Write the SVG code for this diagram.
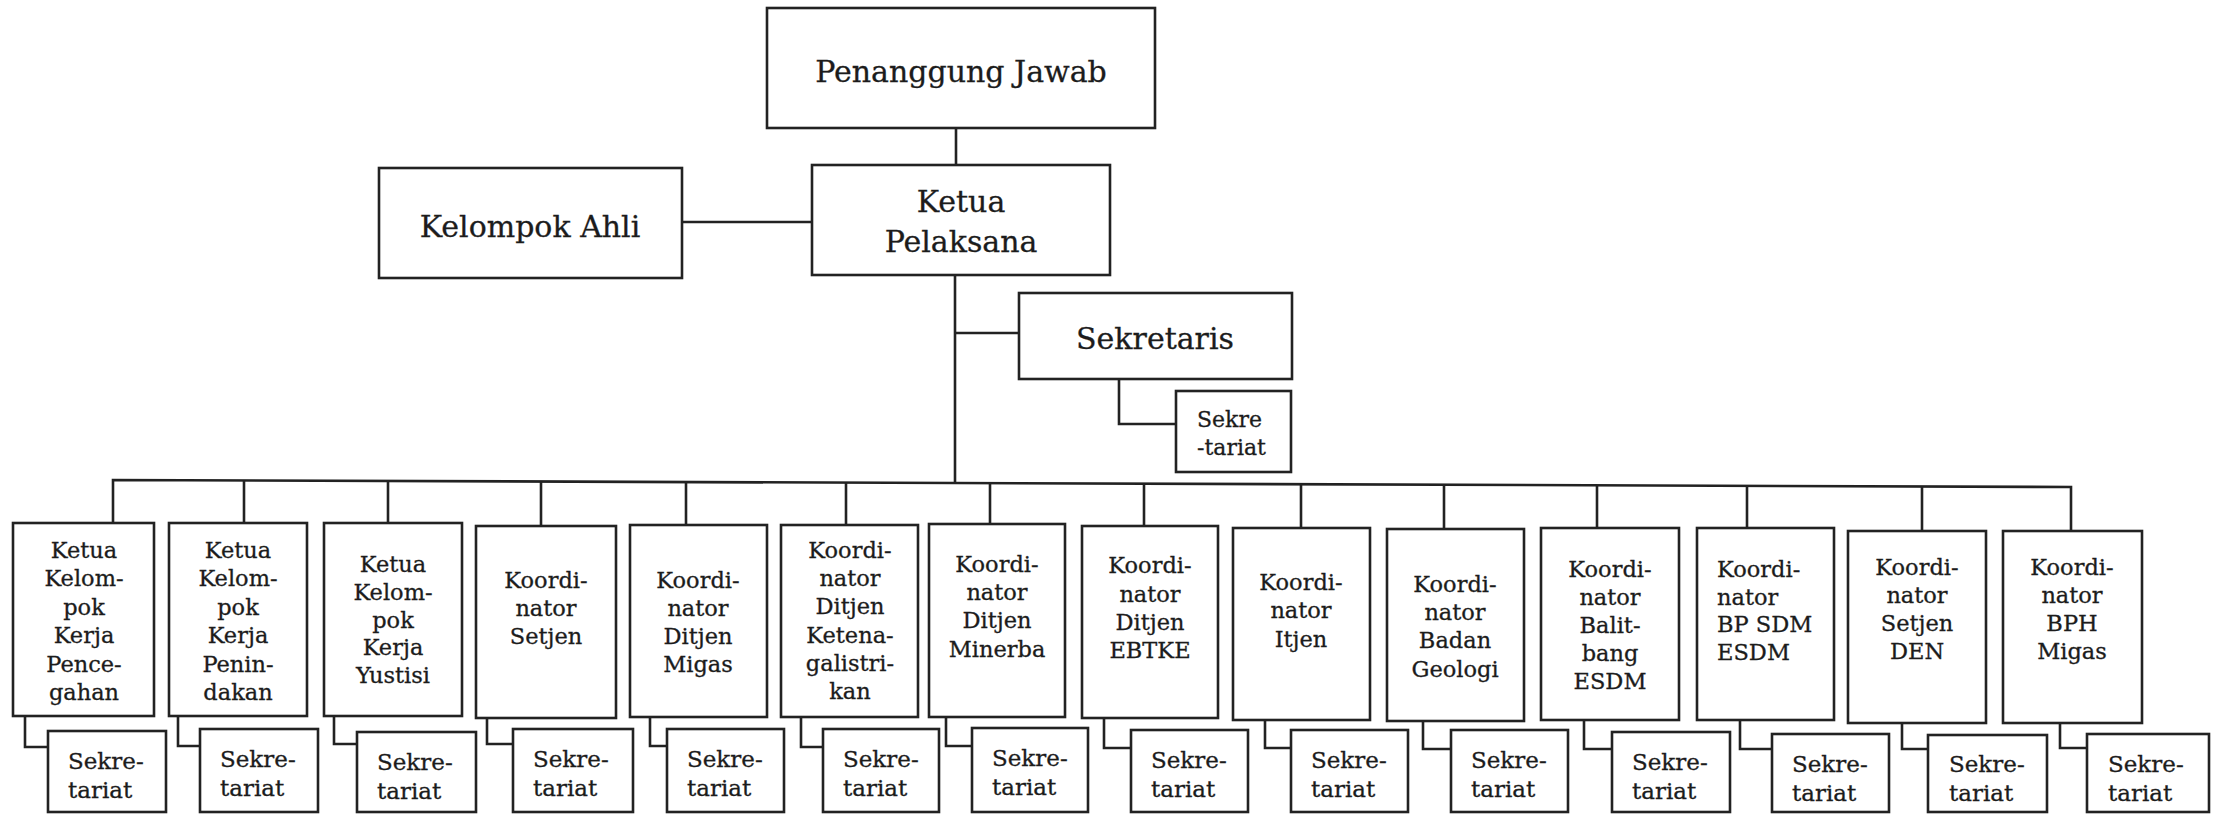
<svg xmlns="http://www.w3.org/2000/svg" width="2214" height="815" viewBox="0 0 2214 815">
<style>
.b{fill:#fff;stroke:#222;stroke-width:2.6}
.c{fill:none;stroke:#222;stroke-width:2.6}
text{font-family:"DejaVu Serif","Liberation Serif",serif;fill:#1c1c1c;stroke:#1c1c1c;stroke-width:0.3}
.t30{font-size:30px;text-anchor:middle}
.t22{font-size:22.5px;text-anchor:middle}
.l22{font-size:22px}
.l225{font-size:22.5px}
.s23{font-size:23px}
</style>
<rect width="2214" height="815" fill="#fff"/>
<g id="connectors">
<path class="c" d="M956 128V165"/>
<path class="c" d="M682 222H812"/>
<path class="c" d="M955 275V483"/>
<path class="c" d="M955 333H1019"/>
<path class="c" d="M1119 379V424H1176"/>
<path class="c" d="M113 523V480L2071 487V531"/>
<path class="c" d="M244 480.5V523"/>
<path class="c" d="M388 481V523"/>
<path class="c" d="M541 481.5V526"/>
<path class="c" d="M686 482V525"/>
<path class="c" d="M846 482.6V525"/>
<path class="c" d="M990 483.1V524"/>
<path class="c" d="M1144 483.7V526"/>
<path class="c" d="M1301 484.2V528"/>
<path class="c" d="M1444 484.8V529"/>
<path class="c" d="M1597 485.3V528"/>
<path class="c" d="M1747 485.8V528"/>
<path class="c" d="M1922 486.5V531"/>
<path class="c" d="M25 716V747H48"/>
<path class="c" d="M178 716V746H200"/>
<path class="c" d="M334 716V744H357"/>
<path class="c" d="M487 718V744H513"/>
<path class="c" d="M650 717V746H667"/>
<path class="c" d="M801 717V747H823"/>
<path class="c" d="M946 717V746H972"/>
<path class="c" d="M1104 718V748H1131"/>
<path class="c" d="M1265 720V748H1291"/>
<path class="c" d="M1423 721V749H1451"/>
<path class="c" d="M1584 720V749H1612"/>
<path class="c" d="M1740 720V749H1772"/>
<path class="c" d="M1902 723V749H1928"/>
<path class="c" d="M2060 723V748H2087"/>
</g>
<g id="penanggung-jawab"><rect class="b" x="767" y="8" width="388" height="120"/><text class="t30" x="961" y="82">Penanggung Jawab</text></g>
<g id="ketua-pelaksana"><rect class="b" x="812" y="165" width="298" height="110"/><text class="t30" x="961" y="212">Ketua</text><text class="t30" x="961" y="252">Pelaksana</text></g>
<g id="kelompok-ahli"><rect class="b" x="379" y="168" width="303" height="110"/><text class="t30" x="530" y="237">Kelompok Ahli</text></g>
<g id="sekretaris"><rect class="b" x="1019" y="293" width="273" height="86"/><text class="t30" x="1155" y="349">Sekretaris</text></g>
<g id="sekretariat-sekretaris"><rect class="b" x="1176" y="391" width="115" height="81"/><text class="l22" x="1197" y="427">Sekre</text><text class="l22" x="1197" y="455">-tariat</text></g>

<g id="pokja-pencegahan"><rect class="b" x="13" y="523" width="141" height="193"/><text class="t22" x="84"><tspan x="84" y="558">Ketua</tspan><tspan x="84" y="586.4">Kelom-</tspan><tspan x="84" y="614.8">pok</tspan><tspan x="84" y="643.2">Kerja</tspan><tspan x="84" y="671.6">Pence-</tspan><tspan x="84" y="700">gahan</tspan></text></g>
<g id="pokja-penindakan"><rect class="b" x="169" y="523" width="138" height="193"/><text class="t22" x="238"><tspan x="238" y="558">Ketua</tspan><tspan x="238" y="586.4">Kelom-</tspan><tspan x="238" y="614.8">pok</tspan><tspan x="238" y="643.2">Kerja</tspan><tspan x="238" y="671.6">Penin-</tspan><tspan x="238" y="700">dakan</tspan></text></g>
<g id="pokja-yustisi"><rect class="b" x="324" y="523" width="138" height="193"/><text class="t22" x="393"><tspan x="393" y="572">Ketua</tspan><tspan x="393" y="600">Kelom-</tspan><tspan x="393" y="627.5">pok</tspan><tspan x="393" y="655">Kerja</tspan><tspan x="393" y="683">Yustisi</tspan></text></g>
<g id="koord-setjen"><rect class="b" x="476" y="526" width="140" height="192"/><text class="t22" x="546"><tspan x="546" y="588">Koordi-</tspan><tspan x="546" y="616">nator</tspan><tspan x="546" y="644">Setjen</tspan></text></g>
<g id="koord-migas"><rect class="b" x="630" y="525" width="137" height="192"/><text class="t22" x="698"><tspan x="698" y="588">Koordi-</tspan><tspan x="698" y="616">nator</tspan><tspan x="698" y="644">Ditjen</tspan><tspan x="698" y="672">Migas</tspan></text></g>
<g id="koord-ketenagalistrikan"><rect class="b" x="781" y="525" width="137" height="192"/><text class="t22" x="850"><tspan x="850" y="558">Koordi-</tspan><tspan x="850" y="586.2">nator</tspan><tspan x="850" y="614.4">Ditjen</tspan><tspan x="850" y="642.6">Ketena-</tspan><tspan x="850" y="670.8">galistri-</tspan><tspan x="850" y="699">kan</tspan></text></g>
<g id="koord-minerba"><rect class="b" x="929" y="524" width="136" height="193"/><text class="t22" x="997"><tspan x="997" y="572">Koordi-</tspan><tspan x="997" y="600">nator</tspan><tspan x="997" y="628">Ditjen</tspan><tspan x="997" y="657">Minerba</tspan></text></g>
<g id="koord-ebtke"><rect class="b" x="1082" y="526" width="136" height="192"/><text class="t22" x="1150"><tspan x="1150" y="573">Koordi-</tspan><tspan x="1150" y="602">nator</tspan><tspan x="1150" y="630">Ditjen</tspan><tspan x="1150" y="658">EBTKE</tspan></text></g>
<g id="koord-itjen"><rect class="b" x="1233" y="528" width="137" height="192"/><text class="t22" x="1301"><tspan x="1301" y="590">Koordi-</tspan><tspan x="1301" y="618">nator</tspan><tspan x="1301" y="647">Itjen</tspan></text></g>
<g id="koord-geologi"><rect class="b" x="1387" y="529" width="137" height="192"/><text class="t22" x="1455"><tspan x="1455" y="592">Koordi-</tspan><tspan x="1455" y="620">nator</tspan><tspan x="1455" y="648">Badan</tspan><tspan x="1455" y="677">Geologi</tspan></text></g>
<g id="koord-balitbang"><rect class="b" x="1541" y="528" width="138" height="192"/><text class="t22" x="1610"><tspan x="1610" y="577">Koordi-</tspan><tspan x="1610" y="605">nator</tspan><tspan x="1610" y="633">Balit-</tspan><tspan x="1610" y="661">bang</tspan><tspan x="1610" y="689">ESDM</tspan></text></g>
<g id="koord-bpsdm"><rect class="b" x="1697" y="528" width="137" height="192"/><text class="l225" x="1717"><tspan x="1717" y="577">Koordi-</tspan><tspan x="1717" y="605">nator</tspan><tspan x="1717" y="632">BP SDM</tspan><tspan x="1717" y="660">ESDM</tspan></text></g>
<g id="koord-den"><rect class="b" x="1848" y="531" width="138" height="192"/><text class="t22" x="1917"><tspan x="1917" y="575">Koordi-</tspan><tspan x="1917" y="603">nator</tspan><tspan x="1917" y="631">Setjen</tspan><tspan x="1917" y="659">DEN</tspan></text></g>
<g id="koord-bphmigas"><rect class="b" x="2003" y="531" width="139" height="192"/><text class="t22" x="2072"><tspan x="2072" y="575">Koordi-</tspan><tspan x="2072" y="603">nator</tspan><tspan x="2072" y="631">BPH</tspan><tspan x="2072" y="659">Migas</tspan></text></g>

<g id="sekretariat-1"><rect class="b" x="48" y="731" width="118" height="81"/><text class="s23"><tspan x="68" y="769">Sekre-</tspan><tspan x="68" y="798">tariat</tspan></text></g>
<g id="sekretariat-2"><rect class="b" x="200" y="729" width="118" height="83"/><text class="s23"><tspan x="220" y="767">Sekre-</tspan><tspan x="220" y="796">tariat</tspan></text></g>
<g id="sekretariat-3"><rect class="b" x="357" y="732" width="119" height="80"/><text class="s23"><tspan x="377" y="770">Sekre-</tspan><tspan x="377" y="799">tariat</tspan></text></g>
<g id="sekretariat-4"><rect class="b" x="513" y="729" width="120" height="83"/><text class="s23"><tspan x="533" y="767">Sekre-</tspan><tspan x="533" y="796">tariat</tspan></text></g>
<g id="sekretariat-5"><rect class="b" x="667" y="729" width="117" height="83"/><text class="s23"><tspan x="687" y="767">Sekre-</tspan><tspan x="687" y="796">tariat</tspan></text></g>
<g id="sekretariat-6"><rect class="b" x="823" y="729" width="116" height="83"/><text class="s23"><tspan x="843" y="767">Sekre-</tspan><tspan x="843" y="796">tariat</tspan></text></g>
<g id="sekretariat-7"><rect class="b" x="972" y="728" width="116" height="84"/><text class="s23"><tspan x="992" y="766">Sekre-</tspan><tspan x="992" y="795">tariat</tspan></text></g>
<g id="sekretariat-8"><rect class="b" x="1131" y="730" width="117" height="82"/><text class="s23"><tspan x="1151" y="768">Sekre-</tspan><tspan x="1151" y="797">tariat</tspan></text></g>
<g id="sekretariat-9"><rect class="b" x="1291" y="730" width="117" height="82"/><text class="s23"><tspan x="1311" y="768">Sekre-</tspan><tspan x="1311" y="797">tariat</tspan></text></g>
<g id="sekretariat-10"><rect class="b" x="1451" y="730" width="117" height="82"/><text class="s23"><tspan x="1471" y="768">Sekre-</tspan><tspan x="1471" y="797">tariat</tspan></text></g>
<g id="sekretariat-11"><rect class="b" x="1612" y="732" width="118" height="80"/><text class="s23"><tspan x="1632" y="770">Sekre-</tspan><tspan x="1632" y="799">tariat</tspan></text></g>
<g id="sekretariat-12"><rect class="b" x="1772" y="734" width="117" height="78"/><text class="s23"><tspan x="1792" y="772">Sekre-</tspan><tspan x="1792" y="801">tariat</tspan></text></g>
<g id="sekretariat-13"><rect class="b" x="1928" y="735" width="119" height="77"/><text class="s23"><tspan x="1949" y="772">Sekre-</tspan><tspan x="1949" y="801">tariat</tspan></text></g>
<g id="sekretariat-14"><rect class="b" x="2087" y="734" width="122" height="78"/><text class="s23"><tspan x="2108" y="772">Sekre-</tspan><tspan x="2108" y="801">tariat</tspan></text></g>
</svg>
